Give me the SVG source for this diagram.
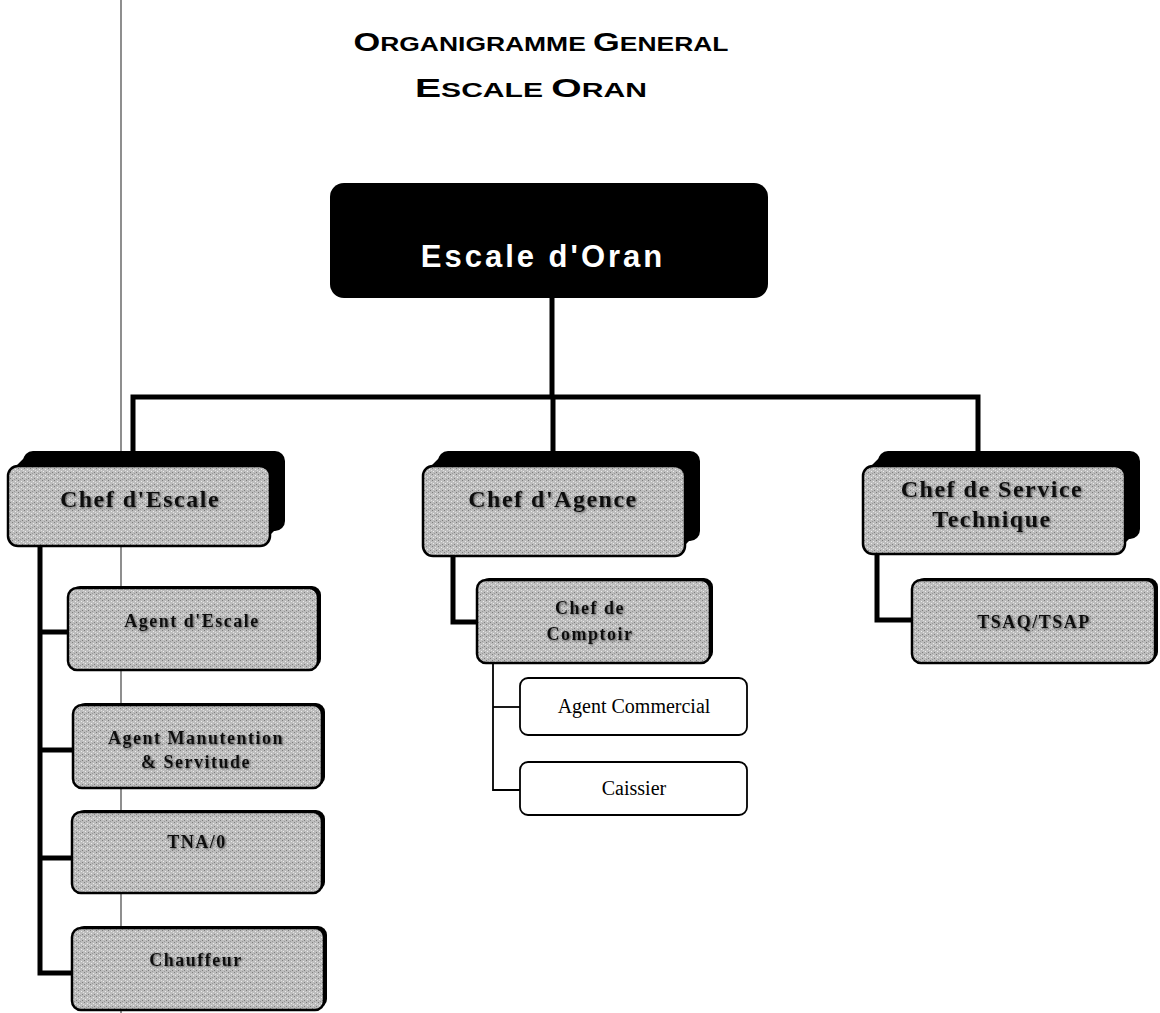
<svg xmlns="http://www.w3.org/2000/svg" width="1160" height="1013" viewBox="0 0 1160 1013">
  <defs>
    <!-- grainy grey fill used on the shaded boxes -->
    <pattern id="grain" width="6" height="6" patternUnits="userSpaceOnUse">
      <rect width="6" height="6" fill="#bdbdbd"/>
      <rect x="0" y="0" width="1" height="1" fill="#7e7e7e"/>
      <rect x="3" y="1" width="1" height="1" fill="#ececec"/>
      <rect x="1" y="3" width="1" height="1" fill="#ececec"/>
      <rect x="4" y="4" width="1" height="1" fill="#7e7e7e"/>
      <rect x="2" y="5" width="1" height="1" fill="#999"/>
      <rect x="5" y="2" width="1" height="1" fill="#dedede"/>
    </pattern>
    <filter id="halo" x="-10%" y="-30%" width="120%" height="160%">
      <feGaussianBlur in="SourceAlpha" stdDeviation="1.2" result="b"/>
      <feOffset in="b" dx="1" dy="1" result="o"/>
      <feFlood flood-color="#555"/>
      <feComposite in2="o" operator="in" result="s"/>
      <feMerge><feMergeNode in="s"/><feMergeNode in="SourceGraphic"/></feMerge>
    </filter>
  </defs>
  <style>
    .title { font-family: "Liberation Sans", Arial, sans-serif; font-weight: bold; fill: #000; }
    .big { font-size: 26px; }
    .small { font-size: 20px; }
    .root { font-family: "Liberation Sans", Arial, sans-serif; font-weight: bold; font-size: 31px; letter-spacing: 3px; fill: #fff; }
    .lbl1 { font-family: "Liberation Serif", "Times New Roman", serif; font-weight: bold; font-size: 24px; letter-spacing: 1.5px; fill: #111; }
    .lbl2 { font-family: "Liberation Serif", "Times New Roman", serif; font-weight: bold; font-size: 18px; letter-spacing: 1.5px; fill: #111; }
    .lbl3 { font-family: "Liberation Serif", "Times New Roman", serif; font-size: 20px; fill: #000; }
    .face { fill: url(#grain); stroke: #000; stroke-width: 2.5; }
    .ext { fill: #000; }
    .plain { fill: #fff; stroke: #000; stroke-width: 1.8; }
    .thick { fill: none; stroke: #000; stroke-width: 5; stroke-linejoin: miter; }
    .thin { fill: none; stroke: #000; stroke-width: 1.8; }
  </style>

  <rect width="1160" height="1013" fill="#fff"/>

  <!-- page margin rule -->
  <line x1="121" y1="0" x2="121" y2="1013" stroke="#444" stroke-width="1.2"/>

  <!-- headings -->
  <text class="title" x="541" y="51" text-anchor="middle" textLength="375" lengthAdjust="spacingAndGlyphs"><tspan class="big">O</tspan><tspan class="small">RGANIGRAMME </tspan><tspan class="big">G</tspan><tspan class="small">ENERAL</tspan></text>
  <text class="title" x="531" y="97" text-anchor="middle" textLength="232" lengthAdjust="spacingAndGlyphs"><tspan class="big">E</tspan><tspan class="small">SCALE </tspan><tspan class="big">O</tspan><tspan class="small">RAN</tspan></text>

  <!-- connectors -->
  <g id="connectors">
    <path class="thick" d="M552,298 V397"/>
    <path class="thick" d="M133,452 V397 H978 V452"/>
    <path class="thick" d="M553,397 V452"/>
    <path class="thick" d="M40,546 V973 H72"/>
    <path class="thick" d="M40,632 H68"/>
    <path class="thick" d="M40,750 H73"/>
    <path class="thick" d="M40,858 H72"/>
    <path class="thick" d="M453,556 V622 H477"/>
    <path class="thick" d="M877,554 V620 H912"/>
    <path class="thin" d="M493,663 V790 H520"/>
    <path class="thin" d="M493,707 H520"/>
  </g>

  <!-- root -->
  <g id="escale-oran">
    <rect x="330" y="183" width="438" height="115" rx="14" fill="#000"/>
    <text class="root" x="543" y="267" text-anchor="middle">Escale d'Oran</text>
  </g>

  <!-- first level: extruded boxes -->
  <g id="chef-escale">
    <rect class="ext" x="23" y="451" width="262" height="80" rx="10"/>
    <polygon class="ext" points="12,470 27,455 281,455 285,520 270,535 270,470"/>
    <rect class="face" x="8" y="466" width="262" height="80" rx="10"/>
    <text class="lbl1" x="140" y="507" text-anchor="middle" filter="url(#halo)">Chef d'Escale</text>
  </g>
  <g id="chef-agence">
    <rect class="ext" x="438" y="451" width="262" height="90" rx="10"/>
    <polygon class="ext" points="427,470 442,455 696,455 700,530 685,545 685,470"/>
    <rect class="face" x="423" y="466" width="262" height="90" rx="10"/>
    <text class="lbl1" x="553" y="507" text-anchor="middle" filter="url(#halo)">Chef d'Agence</text>
  </g>
  <g id="chef-service-technique">
    <rect class="ext" x="878" y="451" width="262" height="88" rx="10"/>
    <polygon class="ext" points="867,470 882,455 1136,455 1140,528 1125,543 1125,470"/>
    <rect class="face" x="863" y="466" width="262" height="88" rx="10"/>
    <text class="lbl1" x="992" y="497" text-anchor="middle" filter="url(#halo)">Chef de Service</text>
    <text class="lbl1" x="992" y="527" text-anchor="middle" filter="url(#halo)">Technique</text>
  </g>

  <!-- second level: shaded boxes -->
  <g id="agent-escale">
    <rect class="ext" x="71" y="586" width="250" height="82" rx="9"/>
    <rect class="face" x="68" y="588" width="250" height="82" rx="9"/>
    <text class="lbl2" x="192" y="627" text-anchor="middle" filter="url(#halo)">Agent d'Escale</text>
  </g>
  <g id="agent-manutention">
    <rect class="ext" x="76" y="703" width="249" height="83" rx="9"/>
    <rect class="face" x="73" y="705" width="249" height="83" rx="9"/>
    <text class="lbl2" x="196" y="744" text-anchor="middle" filter="url(#halo)">Agent Manutention</text>
    <text class="lbl2" x="196" y="768" text-anchor="middle" filter="url(#halo)">&amp; Servitude</text>
  </g>
  <g id="tna">
    <rect class="ext" x="75" y="810" width="250" height="81" rx="9"/>
    <rect class="face" x="72" y="812" width="250" height="81" rx="9"/>
    <text class="lbl2" x="197" y="848" text-anchor="middle" filter="url(#halo)">TNA/0</text>
  </g>
  <g id="chauffeur">
    <rect class="ext" x="75" y="926" width="252" height="82" rx="9"/>
    <rect class="face" x="72" y="928" width="252" height="82" rx="9"/>
    <text class="lbl2" x="196" y="966" text-anchor="middle" filter="url(#halo)">Chauffeur</text>
  </g>
  <g id="chef-comptoir">
    <rect class="ext" x="480" y="578" width="233" height="83" rx="9"/>
    <rect class="face" x="477" y="580" width="233" height="83" rx="9"/>
    <text class="lbl2" x="590" y="614" text-anchor="middle" filter="url(#halo)">Chef de</text>
    <text class="lbl2" x="590" y="640" text-anchor="middle" filter="url(#halo)">Comptoir</text>
  </g>
  <g id="tsaq-tsap">
    <rect class="ext" x="915" y="578" width="243" height="83" rx="9"/>
    <rect class="face" x="912" y="580" width="243" height="83" rx="9"/>
    <text class="lbl2" x="1034" y="628" text-anchor="middle" filter="url(#halo)">TSAQ/TSAP</text>
  </g>

  <!-- third level: plain boxes -->
  <g id="agent-commercial">
    <rect class="plain" x="520" y="678" width="227" height="57" rx="8"/>
    <text class="lbl3" x="634" y="713" text-anchor="middle">Agent Commercial</text>
  </g>
  <g id="caissier">
    <rect class="plain" x="520" y="762" width="227" height="53" rx="8"/>
    <text class="lbl3" x="634" y="795" text-anchor="middle">Caissier</text>
  </g>
</svg>
